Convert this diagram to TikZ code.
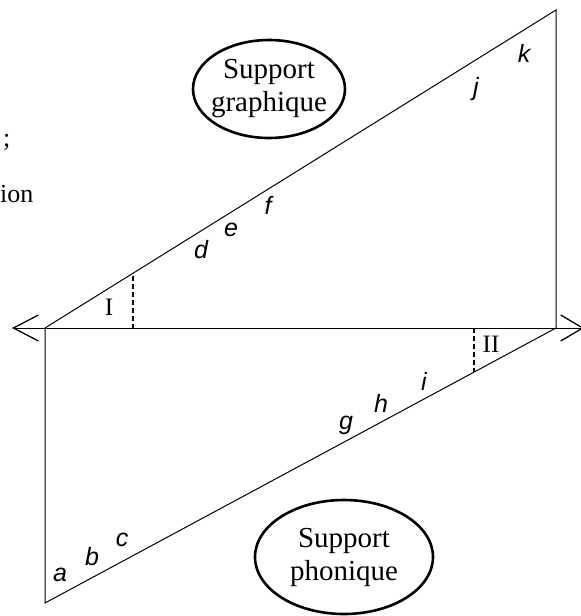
\documentclass[tikz,border=0pt]{standalone}
\usepackage{fontspec}
\setmainfont{Liberation Serif}
\setsansfont{Liberation Sans}
\usetikzlibrary{shapes.geometric,arrows.meta}
\begin{document}
\begin{tikzpicture}[x=1pt,y=-1pt,
  thin line/.style={line width=1pt},
  sup/.style={draw,ellipse,line width=2.6pt,inner sep=0pt,align=center,font=\fontsize{29}{33}\selectfont},
  lett/.style={font=\fontsize{25}{29}\selectfont\sffamily\itshape,inner sep=0pt},
  roman/.style={font=\fontsize{25}{29}\selectfont,inner sep=0pt},
  dsh/.style={line width=2.2pt,dash pattern=on 5pt off 3pt},
  frag/.style={font=\fontsize{26}{30}\selectfont,inner sep=0pt,anchor=base west}]
\useasboundingbox (0,0) rectangle (581,616);
\coordinate (A) at (45,328);
\coordinate (B) at (556,328);
\coordinate (T) at (556,10);
\coordinate (D) at (45,603);
\coordinate (L) at (12,328);
\coordinate (R) at (584,328);
\coordinate (u1) at (133,276);
\coordinate (u2) at (133,328);
\coordinate (l1) at (474,328);
\coordinate (l2) at (474,372);
% arrows
\draw[thin line,{Straight Barb[length=25pt,width=26pt,line width=1.3pt]}-{Straight Barb[length=22pt,width=26pt,line width=1.3pt]}] (L) -- (R);
% triangles
\draw[thin line] (A) -- (T) -- (B);
\draw[thin line] (A) -- (D) -- (B);
% dashed
\draw[dsh] (u1) -- (u2);
\draw[dsh] (l1) -- (l2);
% ellipses
\node[sup,inner xsep=-4.5pt,minimum width=152pt,minimum height=98pt] (sg) at (269,89) {Support\\graphique};
\node[sup,minimum width=178pt,minimum height=114pt] (sp) at (344,557) {Support\\phonique};
% roman
\node[roman] (rI) at (109,307) {I};
\node[roman] (rII) at (491,344) {II};
% letters
\node[lett] (la) at (60,575) {a};
\node[lett] (lb) at (92,557) {b};
\node[lett] (lc) at (122,540) {c};
\node[lett] (ld) at (201,250) {d};
\node[lett] (le) at (231,230) {e};
\node[lett] (lf) at (268,205) {f};
\node[lett] (lg) at (346,425) {g};
\node[lett] (lh) at (381,403) {h};
\node[lett] (li) at (424,381) {i};
\node[lett] (lj) at (476,89) {j};
\node[lett] (lk) at (524,53) {k};
% fragments
\node[frag] (f1) at (3,146) {;};
\node[frag] (f2) at (0,202) {ion};
\end{tikzpicture}
\end{document}
